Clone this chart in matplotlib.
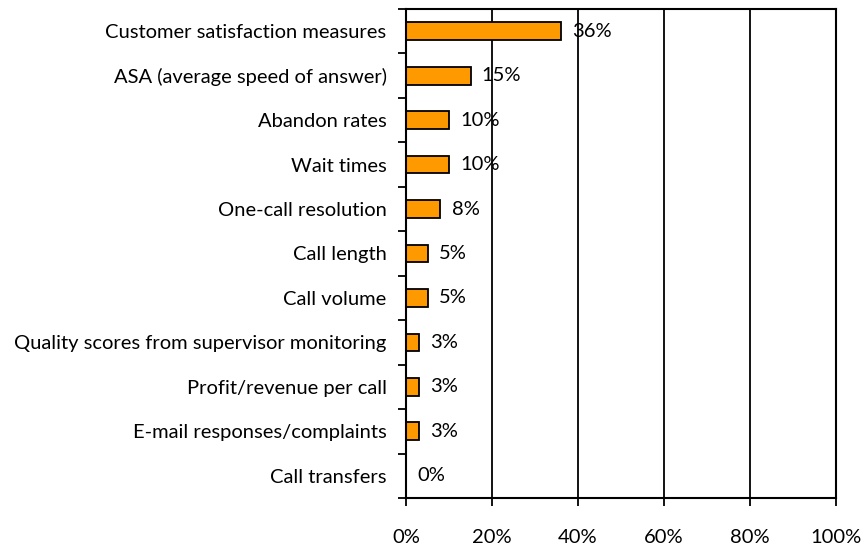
import matplotlib
matplotlib.use("Agg")
import numpy as np
import matplotlib.pyplot as plt
from matplotlib.ticker import FixedLocator

categories = [
    "Customer satisfaction measures",
    "ASA (average speed of answer)",
    "Abandon rates",
    "Wait times",
    "One-call resolution",
    "Call length",
    "Call volume",
    "Quality scores from supervisor monitoring",
    "Profit/revenue per call",
    "E-mail responses/complaints",
    "Call transfers",
]
values = [36, 15, 10, 10, 8, 5, 5, 3, 3, 3, 0]
x_ticks = [0, 20, 40, 60, 80, 100]


def main():
    plt.rcParams["font.family"] = ["Lato", "DejaVu Sans"]
    fig = plt.figure(figsize=(8.66, 5.5), dpi=100)
    ax = fig.add_axes([406 / 866, 1 - 498 / 550, 430 / 866, 489 / 550])

    y = np.arange(len(categories))
    ax.barh(y, values, height=0.4, color="#FF9900", edgecolor="black", linewidth=1.3)

    for yi, v in zip(y, values):
        ax.annotate(f"{v}%", (v, yi), xytext=(8, 0), textcoords="offset points",
                    va="center", ha="left", fontsize=14.5)

    ax.set_xlim(0, 100)
    ax.set_ylim(len(categories) - 0.5, -0.5)
    ax.set_xticks(x_ticks)
    ax.set_xticklabels([f"{t}%" for t in x_ticks], fontsize=14.5)
    ax.set_yticks(y)
    ax.set_yticklabels(categories, fontsize=14.5)
    ax.tick_params(axis="y", which="major", length=0, pad=14)
    ax.yaxis.set_minor_locator(FixedLocator(np.arange(-0.5, len(categories), 1)))
    ax.tick_params(axis="y", which="minor", length=6, width=1.3, direction="out")
    ax.tick_params(axis="x", length=6, width=1.3, direction="out", pad=16)

    ax.grid(axis="x", color="black", linewidth=1.3)
    ax.set_axisbelow(True)
    for spine in ax.spines.values():
        spine.set_linewidth(1.5)

    fig.savefig("out.png", dpi=100)


if __name__ == "__main__":
    main()
